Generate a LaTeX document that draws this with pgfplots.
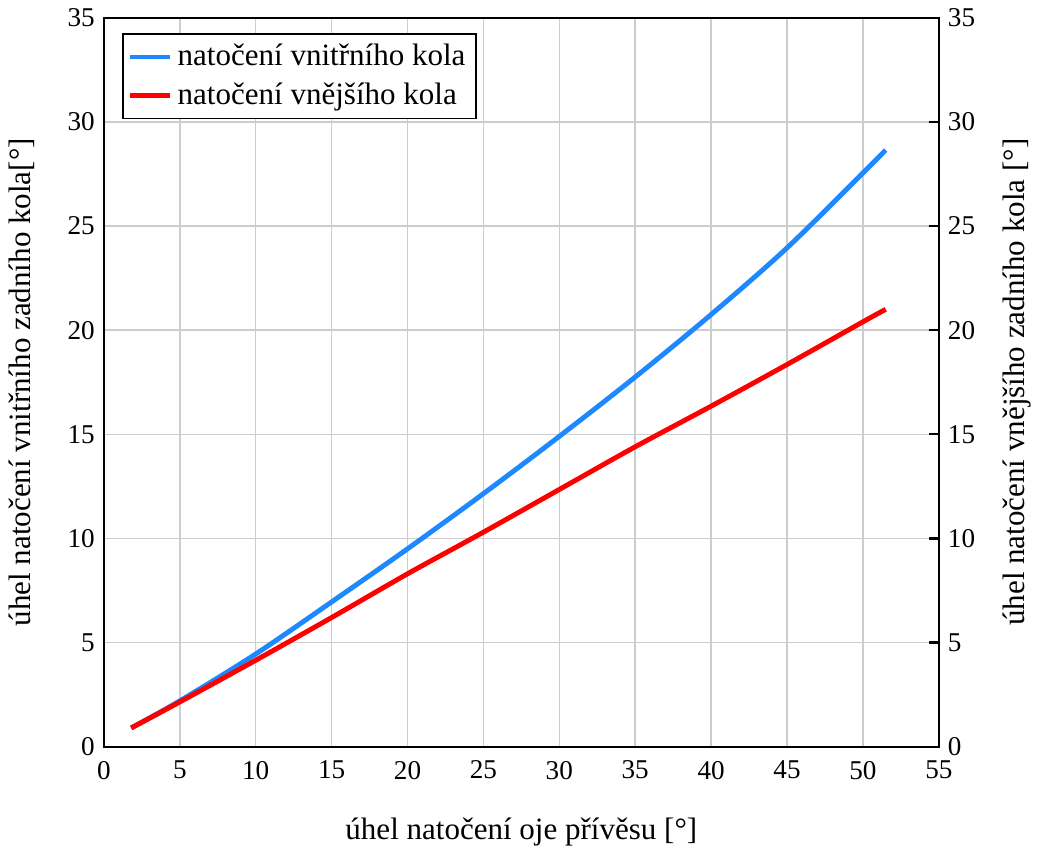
\documentclass[border=0pt]{standalone}
\usepackage{fontspec}
\setmainfont{Liberation Serif}
\usepackage{pgfplots}
\pgfplotsset{compat=1.18}
\definecolor{inner}{RGB}{30,136,255}
\definecolor{outer}{RGB}{255,0,0}
\definecolor{gridc}{RGB}{205,205,205}

\begin{document}
\begin{tikzpicture}
\pgfplotsset{
  every axis/.append style={
    scale only axis,
    width=323pt, height=282pt,
    xmin=0, xmax=55, ymin=0, ymax=35,
    xtick={0,5,...,55}, ytick={0,5,...,35},
    tick label style={font=\fontsize{10.5}{12}\selectfont},
    /pgf/number format/assume math mode=true,
    label style={font=\fontsize{12}{14}\selectfont},
  }
}
\begin{axis}[
  axis line style={black, line width=0.9pt},
  grid=major,
  major grid style={gridc, line width=0.6pt},
  major tick length=0pt,
  xlabel={úhel natočení oje přívěsu [°]},
  ylabel={úhel natočení vnitřního zadního kola[°]},
  xlabel style={yshift=-8pt},
  ylabel style={yshift=6pt},
  xticklabel style={yshift=-2pt},
  legend style={at={(rel axis cs:0,1)}, xshift=7pt, yshift=-6pt, anchor=north west,
    draw=black, line width=0.6pt, font=\fontsize{12}{15}\selectfont,
    row sep=1pt, inner sep=2pt},
  legend cell align=left,
  legend image post style={line width=1.6pt},
  legend image code/.code={\draw[#1] (0cm,0cm) -- (0.55cm,0cm);},
]
\addplot[inner, line width=1.9pt, smooth] coordinates {
  (1.8,0.9) (5,2.2) (10,4.45) (15,6.95) (20,9.5) (25,12.15) (30,14.9)
  (35,17.75) (40,20.75) (45,23.95) (50,27.55) (51.5,28.65)
};
\addlegendentry{natočení vnitřního kola}
\addplot[outer, line width=1.9pt, smooth] coordinates {
  (1.8,0.9) (5,2.15) (10,4.15) (15,6.2) (20,8.3) (25,10.3) (30,12.35)
  (35,14.4) (40,16.35) (45,18.35) (50,20.4) (51.5,21.0)
};
\addlegendentry{natočení vnějšího kola}
\end{axis}
\begin{axis}[
  axis x line=none,
  axis y line*=right,
  axis line style={black, line width=0.9pt},
  y axis line style={-},
  tick style={black, line width=0.9pt},
  major tick length=3.8pt,
  ylabel={úhel natočení vnějšího zadního kola [°]},
  ylabel style={yshift=-4pt},
]
\addplot[draw=none] coordinates {(0,0) (55,35)};
\end{axis}
\end{tikzpicture}
\end{document}
